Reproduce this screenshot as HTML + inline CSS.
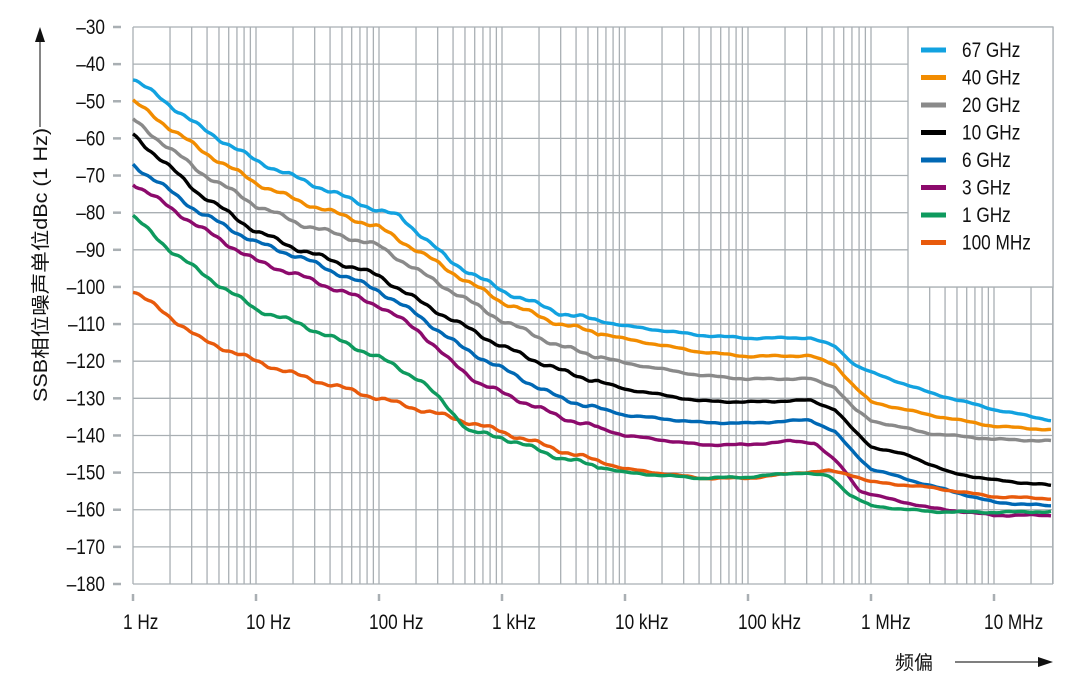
<!DOCTYPE html>
<html><head><meta charset="utf-8">
<style>
html,body{margin:0;padding:0;background:#fff;}
svg{display:block;}
text{font-family:"Liberation Sans","Noto Sans CJK SC",sans-serif;fill:#111;}
</style></head>
<body>
<svg id="s" width="1083" height="685" xmlns="http://www.w3.org/2000/svg"></svg>
<script>
const s=document.getElementById('s');
const X0=133,DEC=123,XR=1053,YT=27,YB=584,LB=287;
const yv=db=>YT+(-30-db)*(YB-YT)/150;
let h='';
const gc='#a9afb3';
const T=(x,y,t,sz,anc)=>`<text transform="translate(${x},${y}) scale(0.82,1)" font-size="${sz}" ${anc?'text-anchor="'+anc+'"':''}>${t}</text>`;
for(let d=0;d<8;d++){for(let m=1;m<10;m++){const x=X0+DEC*(d+Math.log10(m));if(x>XR+0.5)continue;
 const inLeg=x>908;
 h+=`<line x1="${x}" y1="${inLeg?LB:YT}" x2="${x}" y2="${YB}" stroke="${gc}" stroke-width="1.3"/>`;}}
for(let i=0;i<=15;i++){const y=yv(-30-10*i);
 h+=`<line x1="${X0}" y1="${y}" x2="${(y<LB-1&&y>YT+1)?908:XR}" y2="${y}" stroke="${gc}" stroke-width="1.3"/>`;
 h+=`<line x1="113" y1="${y}" x2="121" y2="${y}" stroke="${gc}" stroke-width="2.5"/>`;
 h+=T(105,y+7,'–'+(30+10*i),21,'end');}
h+=`<line x1="${XR}" y1="${YT}" x2="${XR}" y2="${YB}" stroke="${gc}" stroke-width="1.3"/>`;
h+=`<rect x="908" y="${YT}" width="${XR-908}" height="${LB-YT}" fill="#fff" stroke="${gc}" stroke-width="1.3"/>`;
const xl=['1 Hz','10 Hz','100 Hz','1 kHz','10 kHz','100 kHz','1 MHz','10 MHz'];
xl.forEach((t,i)=>{const x=X0+DEC*i;h+=`<line x1="${x}" y1="594" x2="${x}" y2="601" stroke="${gc}" stroke-width="2.5"/>`;
 h+=T(x-10,629,t,21);});
const S={
'#12a2e0':[[133,-44],[160,-49],[200,-57],[256,-66],[300,-71],[379,-79.5],[400,-81],[450,-93],[502,-101],[560,-107],[625,-110.5],[700,-113],[748,-113.8],[810,-113.7],[835,-116],[855,-121],[871,-123],[930,-128.5],[994,-133],[1053,-136]],
'#f28c00':[[133,-50],[200,-63],[256,-72],[300,-77],[379,-84],[410,-89],[470,-99],[502,-104],[560,-110],[625,-114],[700,-117.5],[748,-118.7],[810,-118.5],[835,-121],[855,-127],[871,-131],[930,-134.5],[994,-137.5],[1053,-138.5]],
'#8a8a8a':[[133,-55],[200,-69],[256,-78],[300,-83],[379,-89],[420,-96],[470,-104],[502,-109],[560,-116],[625,-120.5],[700,-123.8],[748,-124.8],[810,-124.7],[835,-127],[855,-133],[871,-136],[930,-139.5],[994,-141],[1053,-141.5]],
'#000000':[[133,-59],[200,-75],[256,-85],[300,-90],[379,-97],[420,-104],[460,-110],[502,-116],[560,-122.5],[625,-127.5],[700,-130.7],[748,-131],[810,-130.5],[835,-133],[855,-139],[871,-143],[910,-145.5],[950,-150],[994,-152],[1053,-153.5]],
'#0068b4':[[133,-67],[200,-80],[256,-88],[300,-92],[379,-101],[420,-108],[460,-116],[502,-122],[560,-130],[625,-134.5],[700,-136.5],[748,-136.7],[810,-135.8],[835,-139],[855,-145],[871,-149],[930,-153.5],[994,-158],[1053,-159]],
'#8c0a6c':[[133,-72],[200,-84],[256,-93],[300,-97],[379,-105],[420,-112],[450,-120],[480,-126],[502,-128.5],[560,-135],[625,-140],[700,-142.5],[748,-142.5],[790,-141.5],[815,-142],[840,-148],[860,-155],[880,-156.5],[930,-159.5],[994,-161.5],[1053,-161.5]],
'#e85a0c':[[133,-101],[170,-108],[200,-114],[256,-120],[300,-124],[379,-130],[420,-133],[470,-136.5],[502,-139],[560,-144],[625,-149],[700,-151.5],[748,-151.5],[800,-150],[830,-149.5],[850,-150.5],[871,-152.5],[930,-154],[994,-156.5],[1053,-157]],
'#0e9a5e':[[133,-81],[170,-90],[200,-96],[256,-106],[300,-110],[379,-119],[420,-125],[450,-133],[470,-139],[502,-140.5],[560,-146],[625,-150],[700,-151.5],[748,-151.2],[800,-150],[830,-151],[850,-156],[871,-159],[930,-160.5],[994,-160.7],[1053,-160.5]]
};
let k=0;
for(const c in S){const p=S[c];let d='';k++;
 for(let x=133;x<=1053;x+=3){let j=0;while(j<p.length-2&&p[j+1][0]<x)j++;
  const a=p[j],b=p[j+1];let v=a[1]+(b[1]-a[1])*(x-a[0])/(b[0]-a[0]);
  const amp=x<600?0.45:0.15;
  v+=amp*(Math.sin(x*0.13+k)+0.5*Math.sin(x*0.41+2*k));
  d+=(x==133?'M':'L')+x+','+yv(v).toFixed(1);}
 h+=`<path d="${d}" fill="none" stroke="${c}" stroke-width="3.4" stroke-linejoin="round"/>`;}
const L=[['#12a2e0','67 GHz'],['#f28c00','40 GHz'],['#8a8a8a','20 GHz'],['#000000','10 GHz'],['#0068b4','6 GHz'],['#8c0a6c','3 GHz'],['#0e9a5e','1 GHz'],['#e85a0c','100 MHz']];
L.forEach((l,i)=>{const y=50+i*27.5;h+=`<line x1="921" y1="${y}" x2="946" y2="${y}" stroke="${l[0]}" stroke-width="5"/>`;
 h+=T(962,y+7,l[1],21);});
h+=`<line x1="40" y1="127" x2="40" y2="40" stroke="#333" stroke-width="1.2"/><polygon points="35,42 45,42 40,27" fill="#111"/>`;
h+=`<text transform="translate(47,402) rotate(-90)" font-size="19" textLength="274" lengthAdjust="spacingAndGlyphs">SSB相位噪声单位dBc (1 Hz)</text>`;
h+=`<text x="895" y="669" font-size="19">频偏</text>`;
h+=`<line x1="955" y1="662" x2="1040" y2="662" stroke="#333" stroke-width="1.2"/><polygon points="1038,657 1038,667 1053,662" fill="#111"/>`;
s.innerHTML=h;
</script>
</body></html>
